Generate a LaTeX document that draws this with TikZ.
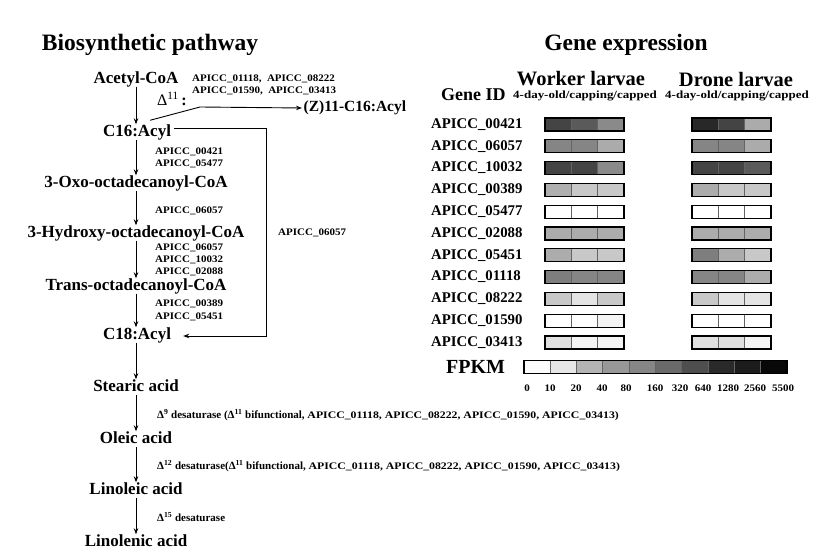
\documentclass[tikz,border=0pt]{standalone}
\usepackage{fontspec}
\setmainfont{Liberation Serif}
\newfontfamily\wfont{Liberation Serif}[FakeStretch=1.1]
\newfontfamily\wwfont{Liberation Serif}[FakeStretch=1.18]
\usetikzlibrary{arrows.meta}
\tikzset{
  mol/.style={font=\fontsize{17}{17}\selectfont\bfseries, inner sep=0pt, text height=12pt, text depth=3pt},
  ttl/.style={font=\fontsize{23.5}{24}\selectfont\bfseries, inner sep=0pt},
  enz/.style={font=\wfont\bfseries\fontsize{10}{12.5}\selectfont, inner sep=0pt, anchor=west, align=left},
  desat/.style={font=\bfseries\fontsize{11}{12}\selectfont, inner sep=0pt, anchor=west},
  arr/.style={-{Stealth[length=6pt,width=4.5pt]}, line width=0.9pt},
  hdr/.style={font=\fontsize{20.5}{21}\selectfont\bfseries, inner sep=0pt},
  sub/.style={font=\wwfont\bfseries\fontsize{11}{12}\selectfont, inner sep=0pt},
  glab/.style={font=\bfseries\fontsize{14.8}{15}\selectfont, inner sep=0pt, anchor=west},
  num/.style={font=\wfont\bfseries\fontsize{10}{10}\selectfont, inner sep=0pt},
  cellframe/.style={draw=black, line width=1.1pt},
  celldiv/.style={draw={rgb,255:red,100;green,100;blue,100}, line width=1pt}
}
\begin{document}
\begin{tikzpicture}[x=1pt,y=-1pt]
\useasboundingbox (0,0) rectangle (825,553);
% titles
\node[ttl] (tbio) at (150,45) {Biosynthetic pathway};
\node[ttl] (tgene) at (626,45) {Gene expression};
% pathway molecules
\node[mol] (acetyl) at (136,79) {Acetyl-CoA};
\node[mol] (c16) at (137,132) {C16:Acyl};
\node[mol] (oxo) at (136,183) {3-Oxo-octadecanoyl-CoA};
\node[mol] (hydroxy) at (136,233) {3-Hydroxy-octadecanoyl-CoA};
\node[mol] (trans) at (136,286) {Trans-octadecanoyl-CoA};
\node[mol] (c18) at (137,335) {C18:Acyl};
\node[mol] (stearic) at (136,387) {Stearic acid};
\node[mol] (oleic) at (136,439) {Oleic acid};
\node[mol] (linoleic) at (136,490) {Linoleic acid};
\node[mol] (linolenic) at (136,542) {Linolenic acid};
\node[font=\fontsize{15.5}{16}\selectfont\bfseries, inner sep=1.5pt, anchor=west] (z11) at (302,108) {(Z)11-C16:Acyl};
% arrows down the pathway
\draw[arr] (acetyl.south -| 136,0) -- (c16.north -| 136,0);
\draw[arr] (c16.south -| 136,0) -- (oxo.north -| 136,0);
\draw[arr] (oxo.south -| 136,0) -- (hydroxy.north -| 136,0);
\draw[arr] (hydroxy.south -| 136,0) -- (trans.north -| 136,0);
\draw[arr] (trans.south -| 136,0) -- (c18.north -| 136,0);
\draw[arr] (c18.south -| 136,0) -- (stearic.north -| 136,0);
\draw[arr] (stearic.south) -- (oleic.north);
\draw[arr] (oleic.south) -- (linoleic.north);
\draw[arr] (linoleic.south) -- (linolenic.north);
% branch to (Z)11-C16:Acyl
\coordinate (bend) at (200,107);
\draw[arr] ([shift={(13pt,4pt)}]c16.north) -- (bend) -- (z11.west);
% loop from C16 to C18
\coordinate (loopA) at (266,128);
\coordinate (loopB) at (266,336);
\draw[arr] ([xshift=3pt]c16.east |- loopA) -- (loopA) -- (loopB) -- ([xshift=12pt]c18.east |- loopB);
% enzyme labels
\node[enz] (topenz) at (192,85) {APICC\_01118,\ \ APICC\_08222\\APICC\_01590,\ \ APICC\_03413};
\node[inner sep=0pt, anchor=west, font=\fontsize{16}{16}\selectfont] (d11) at (157,99) {Δ\textsuperscript{11}\,\textbf{:}};
\node[enz] (e1) at (155,158) {APICC\_00421\\APICC\_05477};
\node[enz] (e2) at (155,211) {APICC\_06057};
\node[enz, font=\wfont\bfseries\fontsize{10}{12}\selectfont] (e3) at (155,259.5) {APICC\_06057\\APICC\_10032\\APICC\_02088};
\node[enz] (e4) at (155,310.5) {APICC\_00389\\APICC\_05451};
\node[enz] (e5) at (278,233) {APICC\_06057};
% desaturase labels
\node[desat] (ds9) at (157,415) {Δ\textsuperscript{9} desaturase (Δ\textsuperscript{11} bifunctional, {\wwfont\fontsize{10}{12}\selectfont APICC\_01118, APICC\_08222, APICC\_01590, APICC\_03413)}};
\node[desat] (ds12) at (157,466) {Δ\textsuperscript{12} desaturase(Δ\textsuperscript{11} bifunctional, {\wwfont\fontsize{10}{12}\selectfont APICC\_01118, APICC\_08222, APICC\_01590, APICC\_03413)}};
\node[desat] (ds15) at (157,517) {Δ\textsuperscript{15} desaturase};
% heatmap headers
\node[hdr] (hw) at (581,79) {Worker larvae};
\node[hdr] (hd) at (736,79) {Drone larvae};
\node[font=\fontsize{18}{18}\selectfont\bfseries, inner sep=0pt, anchor=west] (gid) at (441,95) {Gene ID};
\node[sub] (sw) at (585,96) {4-day-old/capping/capped};
\node[sub] (sd) at (737,96) {4-day-old/capping/capped};
% heatmap rows
\foreach \lab/\a/\b/\c/\d/\e/\f [count=\i from 0] in {
  00421/68/90/138/40/68/171,
  06057/133/133/171/133/133/171,
  10032/68/68/138/68/68/90,
  00389/175/200/200/172/200/200,
  05477/255/255/255/255/255/255,
  02088/172/172/172/172/172/172,
  05451/172/200/200/126/172/200,
  01118/126/133/133/133/133/172,
  08222/200/228/200/200/228/228,
  01590/255/255/244/255/255/255,
  03413/224/244/244/224/224/244} {
  \pgfmathsetmacro\yy{124.5+21.8*\i}
  \node[glab] (g\i) at (431,\yy) {APICC\_\lab};
  \fill[fill={rgb,255:red,\a;green,\a;blue,\a}] (545,\yy-6.5) rectangle ++(26.33,13);
  \fill[fill={rgb,255:red,\b;green,\b;blue,\b}] (571.33,\yy-6.5) rectangle ++(26.33,13);
  \fill[fill={rgb,255:red,\c;green,\c;blue,\c}] (597.67,\yy-6.5) rectangle ++(26.33,13);
  \fill[fill={rgb,255:red,\d;green,\d;blue,\d}] (692,\yy-6.5) rectangle ++(26.33,13);
  \fill[fill={rgb,255:red,\e;green,\e;blue,\e}] (718.33,\yy-6.5) rectangle ++(26.33,13);
  \fill[fill={rgb,255:red,\f;green,\f;blue,\f}] (744.67,\yy-6.5) rectangle ++(26.33,13);
  \draw[celldiv] (571.33,\yy-6.5) -- ++(0,13) (597.67,\yy-6.5) -- ++(0,13);
  \draw[celldiv] (718.33,\yy-6.5) -- ++(0,13) (744.67,\yy-6.5) -- ++(0,13);
  \draw[cellframe] (545,\yy-6.5) rectangle ++(79,13);
  \draw[cellframe] (692,\yy-6.5) rectangle ++(79,13);
}
% FPKM scale
\node[font=\fontsize{20}{20}\selectfont\bfseries, inner sep=0pt, anchor=west] (fpkm) at (446,367) {FPKM};
\foreach \v [count=\k from 0] in {252,230,180,152,134,106,78,42,28,8} {
  \fill[fill={rgb,255:red,\v;green,\v;blue,\v}] (524+26.3*\k,360.5) rectangle ++(26.3,13);
}
\foreach \k in {1,...,9} { \draw[celldiv] (524+26.3*\k,360.5) -- ++(0,13); }
\draw[cellframe] (524,360.5) rectangle ++(263,13);
\foreach \n/\x in {0/527,10/550,20/576,40/602,80/626,160/655,320/680,640/703,1280/728,2560/755,5500/783} {
  \node[num] (n\n) at (\x,388) {\n};
}
\end{tikzpicture}
\end{document}
